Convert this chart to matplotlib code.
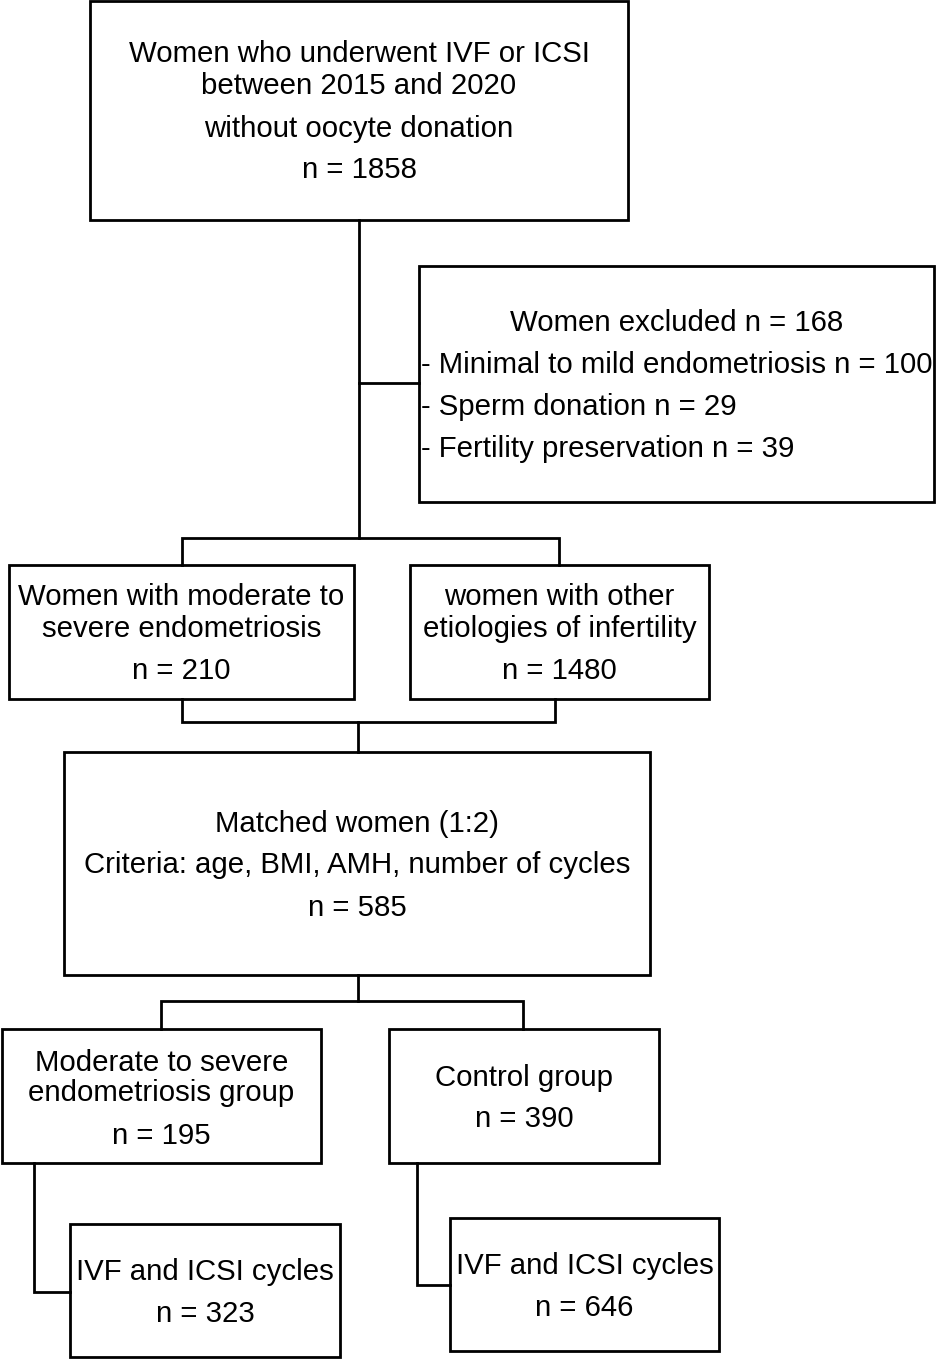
import matplotlib.pyplot as plt
from matplotlib.patches import Rectangle

plt.rcParams['font.family'] = ['Liberation Sans', 'DejaVu Sans']

# box outlines in pixel coords (x0, y0, x1, y1), y measured from top
boxes = [
    (90, 1, 628, 220),
    (419, 266, 934, 502),
    (9, 565, 354, 699),
    (410, 565, 709, 699),
    (64, 752, 650, 975),
    (2, 1029, 321, 1163),
    (389, 1029, 659, 1163),
    (70, 1224, 340, 1357),
    (450, 1218, 719, 1351),
]

# text of each box
box_text = [
    ['Women who underwent IVF or ICSI', 'between 2015 and 2020', 'without oocyte donation', 'n = 1858'],
    ['Women excluded n = 168', '- Minimal to mild endometriosis n = 100', '- Sperm donation n = 29',
     '- Fertility preservation n = 39'],
    ['Women with moderate to', 'severe endometriosis', 'n = 210'],
    ['women with other', 'etiologies of infertility', 'n = 1480'],
    ['Matched women (1:2)', 'Criteria: age, BMI, AMH, number of cycles', 'n = 585'],
    ['Moderate to severe', 'endometriosis group', 'n = 195'],
    ['Control group', 'n = 390'],
    ['IVF and ICSI cycles', 'n = 323'],
    ['IVF and ICSI cycles', 'n = 646'],
]

# baselines of the text lines
baselines = [
    [62, 94, 137, 178],
    [331, 373, 415, 457],
    [605, 637, 679],
    [605, 637, 679],
    [832, 873, 916],
    [1071, 1101, 1144],
    [1086, 1127],
    [1280, 1322],
    [1274, 1316],
]

# connector polylines
connectors = [
    [(359, 220), (359, 538)],
    [(359, 383), (419, 383)],
    [(182, 565), (182, 538), (559, 538), (559, 565)],
    [(182, 699), (182, 722), (555, 722), (555, 699)],
    [(358, 722), (358, 752)],
    [(358, 975), (358, 1001)],
    [(161, 1029), (161, 1001), (523, 1001), (523, 1029)],
    [(34, 1163), (34, 1292), (70, 1292)],
    [(417, 1163), (417, 1285), (450, 1285)],
]

fig = plt.figure(figsize=(9.36, 13.59), dpi=100)
ax = fig.add_axes([0, 0, 1, 1])
ax.set_xlim(0, 936)
ax.set_ylim(1359, 0)
ax.axis('off')

lw = 2.0
fs = 21.2
for line in connectors:
    xs = [p[0] for p in line]
    ys = [p[1] for p in line]
    ax.plot(xs, ys, color='black', lw=lw, solid_capstyle='projecting', solid_joinstyle='miter')

for i, (x0, y0, x1, y1) in enumerate(boxes):
    ax.add_patch(Rectangle((x0, y0), x1 - x0, y1 - y0, fill=False, ec='black', lw=lw, joinstyle='miter'))
    cx = (x0 + x1) / 2
    for j, (txt, yb) in enumerate(zip(box_text[i], baselines[i])):
        if i == 1 and j > 0:
            ax.text(x0 + 2, yb, txt, ha='left', va='baseline', fontsize=fs)
        elif i == 1:
            ax.text(677, yb, txt, ha='center', va='baseline', fontsize=fs)
        else:
            ax.text(cx, yb, txt, ha='center', va='baseline', fontsize=fs)

fig.savefig('out.png', dpi=100, facecolor='white')
